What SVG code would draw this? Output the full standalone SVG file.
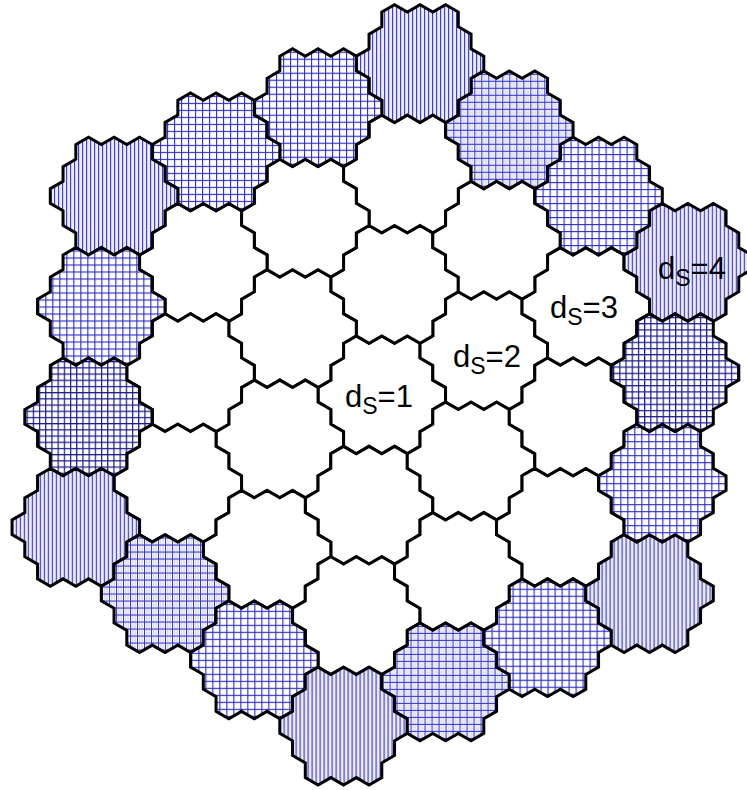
<svg xmlns="http://www.w3.org/2000/svg" width="747" height="790" viewBox="0 0 747 790">
<style>
.c{stroke:#000;stroke-width:3;stroke-linejoin:miter}
.w{fill:#fff}
.v{fill:url(#pv)}
.g{fill:url(#pg)}
.m{fill:url(#pm)}
.k{fill:url(#pk)}
.lbl{font-family:"Liberation Sans",Arial,sans-serif;font-size:31px;fill:#000}
.sub{font-size:23px}
</style>
<defs>
<path id="cell" d="M-38.25,-51.53 L-25.5,-58.89 L-12.75,-51.53 L0,-58.89 L12.75,-51.53 L25.5,-58.89 L38.25,-51.53 L38.25,-36.81 L51,-29.44 L51,-14.72 L63.75,-7.36 L63.75,7.36 L51,14.72 L51,29.44 L38.25,36.81 L38.25,51.53 L25.5,58.89 L12.75,51.53 L0,58.89 L-12.75,51.53 L-25.5,58.89 L-38.25,51.53 L-38.25,36.81 L-51,29.44 L-51,14.72 L-63.75,7.36 L-63.75,-7.36 L-51,-14.72 L-51,-29.44 L-38.25,-36.81 Z"/>
<pattern id="pv" width="4" height="4" patternUnits="userSpaceOnUse"><rect width="4" height="4" fill="#ececfa"/><rect x="0" y="0" width="1.1" height="4" fill="#3535d0"/></pattern>
<pattern id="pg" width="7" height="7" patternUnits="userSpaceOnUse"><rect width="7" height="7" fill="#fff"/><rect x="0" y="0" width="1.1" height="7" fill="#2a2ac8"/><rect x="0" y="0" width="7" height="1.1" fill="#2a2ac8"/></pattern>
<pattern id="pk" width="6.2" height="6.2" patternUnits="userSpaceOnUse"><rect width="6.2" height="6.2" fill="#fff"/><rect x="0" y="0" width="1.2" height="6.2" fill="#181890"/><rect x="0" y="0" width="6.2" height="1.2" fill="#181890"/></pattern>
<pattern id="pm" width="7" height="7" patternUnits="userSpaceOnUse"><rect width="7" height="7" fill="#fafafe"/><rect x="2.3" y="0" width="1" height="7" fill="#cacaf0"/><rect x="4.6" y="0" width="1" height="7" fill="#cacaf0"/><rect x="0" y="0" width="1" height="7" fill="#3030c8"/><rect x="0" y="0" width="7" height="1" fill="#3030c8"/></pattern>
</defs>
<g id="cells">
<g id="cell-0-0"><use href="#cell" class="c w" x="381.8" y="394.8"/></g>
<g id="cell-1-0"><use href="#cell" class="c w" x="483.8" y="350.63"/></g>
<g id="cell-0-1"><use href="#cell" class="c w" x="394.55" y="284.38"/></g>
<g id="cell-m1-1"><use href="#cell" class="c w" x="292.55" y="328.55"/></g>
<g id="cell-m1-0"><use href="#cell" class="c w" x="279.8" y="438.97"/></g>
<g id="cell-0-m1"><use href="#cell" class="c w" x="369.05" y="505.22"/></g>
<g id="cell-1-m1"><use href="#cell" class="c w" x="471.05" y="461.05"/></g>
<g id="cell-2-0"><use href="#cell" class="c w" x="585.8" y="306.47"/></g>
<g id="cell-1-1"><use href="#cell" class="c w" x="496.55" y="240.21"/></g>
<g id="cell-0-2"><use href="#cell" class="c w" x="407.3" y="173.96"/></g>
<g id="cell-m1-2"><use href="#cell" class="c w" x="305.3" y="218.13"/></g>
<g id="cell-m2-2"><use href="#cell" class="c w" x="203.3" y="262.29"/></g>
<g id="cell-m2-1"><use href="#cell" class="c w" x="190.55" y="372.71"/></g>
<g id="cell-m2-0"><use href="#cell" class="c w" x="177.8" y="483.13"/></g>
<g id="cell-m1-m1"><use href="#cell" class="c w" x="267.05" y="549.39"/></g>
<g id="cell-0-m2"><use href="#cell" class="c w" x="356.3" y="615.64"/></g>
<g id="cell-1-m2"><use href="#cell" class="c w" x="458.3" y="571.47"/></g>
<g id="cell-2-m2"><use href="#cell" class="c w" x="560.3" y="527.31"/></g>
<g id="cell-2-m1"><use href="#cell" class="c w" x="573.05" y="416.89"/></g>
<g id="cell-3-0"><use href="#cell" class="c v" x="687.8" y="262.3"/></g>
<g id="cell-2-1"><use href="#cell" class="c g" x="598.55" y="196.05"/></g>
<g id="cell-1-2"><use href="#cell" class="c m" x="509.3" y="129.79"/></g>
<g id="cell-0-3"><use href="#cell" class="c v" x="420.05" y="63.54"/></g>
<g id="cell-m1-3"><use href="#cell" class="c g" x="318.05" y="107.71"/></g>
<g id="cell-m2-3"><use href="#cell" class="c g" x="216.05" y="151.87"/></g>
<g id="cell-m3-3"><use href="#cell" class="c v" x="114.05" y="196.04"/></g>
<g id="cell-m3-2"><use href="#cell" class="c g" x="101.3" y="306.46"/></g>
<g id="cell-m3-1"><use href="#cell" class="c k" x="88.55" y="416.88"/></g>
<g id="cell-m3-0"><use href="#cell" class="c v" x="75.8" y="527.3"/></g>
<g id="cell-m2-m1"><use href="#cell" class="c m" x="165.05" y="593.55"/></g>
<g id="cell-m1-m2"><use href="#cell" class="c g" x="254.3" y="659.81"/></g>
<g id="cell-0-m3"><use href="#cell" class="c v" x="343.55" y="726.06"/></g>
<g id="cell-1-m3"><use href="#cell" class="c m" x="445.55" y="681.89"/></g>
<g id="cell-2-m3"><use href="#cell" class="c g" x="547.55" y="637.73"/></g>
<g id="cell-3-m3"><use href="#cell" class="c v" x="649.55" y="593.56"/></g>
<g id="cell-3-m2"><use href="#cell" class="c g" x="662.3" y="483.14"/></g>
<g id="cell-3-m1"><use href="#cell" class="c k" x="675.05" y="372.72"/></g>
</g>
<g id="connectors"/>
<g id="labels">
<text class="lbl" x="345" y="407">d<tspan class="sub" dy="7">S</tspan><tspan dy="-7">=1</tspan></text>
<text class="lbl" x="453" y="367">d<tspan class="sub" dy="7">S</tspan><tspan dy="-7">=2</tspan></text>
<text class="lbl" x="550" y="318">d<tspan class="sub" dy="7">S</tspan><tspan dy="-7">=3</tspan></text>
<text class="lbl" x="658" y="279">d<tspan class="sub" dy="7">S</tspan><tspan dy="-7">=4</tspan></text>
</g>
</svg>
